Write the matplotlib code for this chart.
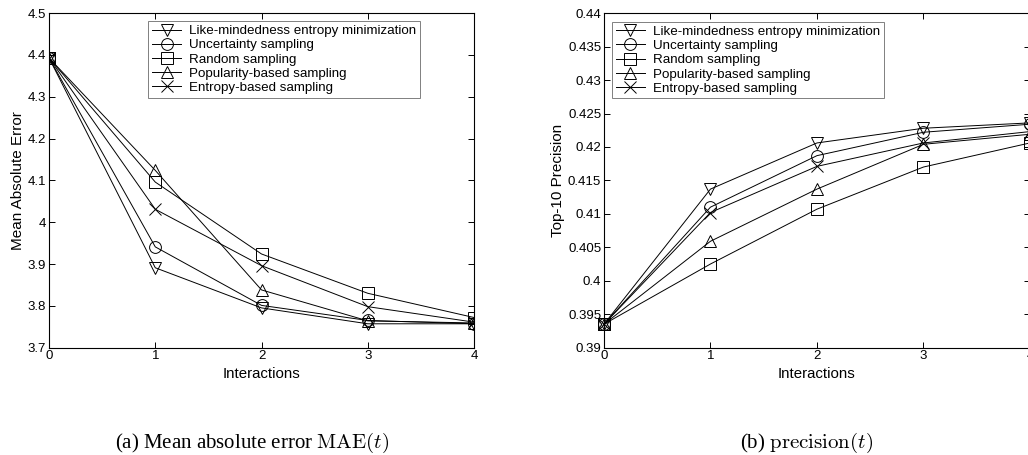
import numpy as np
import matplotlib
matplotlib.use("Agg")
from matplotlib import pyplot as plt

plt.rcParams['font.family'] = ['Liberation Sans', 'DejaVu Sans']
plt.rcParams['mathtext.fontset'] = 'cm'

# data
t = [0, 1, 2, 3, 4]
labels = ["Like-mindedness entropy minimization", "Uncertainty sampling",
          "Random sampling", "Popularity-based sampling", "Entropy-based sampling"]
markers = ["v", "o", "s", "^", "x"]

mae_like = [4.393, 3.891, 3.795, 3.757, 3.757]
mae_unc = [4.393, 3.941, 3.801, 3.765, 3.757]
mae_rand = [4.393, 4.096, 3.924, 3.830, 3.772]
mae_pop = [4.393, 4.124, 3.838, 3.764, 3.759]
mae_ent = [4.393, 4.031, 3.896, 3.798, 3.761]

prec_like = [0.3935, 0.4137, 0.4206, 0.4228, 0.4236]
prec_unc = [0.3935, 0.4110, 0.4187, 0.4222, 0.4234]
prec_rand = [0.3935, 0.4025, 0.4107, 0.4170, 0.4206]
prec_pop = [0.3935, 0.4059, 0.4137, 0.4204, 0.4219]
prec_ent = [0.3935, 0.4102, 0.4171, 0.4206, 0.4223]

mae = [mae_like, mae_unc, mae_rand, mae_pop, mae_ent]
prec = [prec_like, prec_unc, prec_rand, prec_pop, prec_ent]

fig = plt.figure(figsize=(10.28, 4.55), dpi=100)
ax1 = fig.add_axes([0.0477, 0.236, 0.4134, 0.735])
ax2 = fig.add_axes([0.5875, 0.236, 0.4144, 0.735])


def style(ax):
    ax.set_xlim(0, 4)
    ax.set_xticks(t)
    ax.tick_params(direction='in', top=True, right=True, labelsize=9.5, length=4, width=0.7, pad=2)
    for s in ax.spines.values():
        s.set_linewidth(0.8)
    ax.set_xlabel("Interactions", fontsize=10.8, labelpad=3)


def legend(ax, loc, anchor):
    leg = ax.legend(loc=loc, bbox_to_anchor=anchor, fontsize=9.6, fancybox=False,
                    framealpha=1, edgecolor='gray', borderpad=0.28, labelspacing=0.14,
                    handlelength=2.2, handletextpad=0.6, borderaxespad=0)
    leg.get_frame().set_linewidth(0.7)


for ys, m, lab in zip(mae, markers, labels):
    ax1.plot(t, ys, color='black', lw=0.7, marker=m, markersize=8.5,
             markerfacecolor='none', markeredgewidth=0.7, label=lab)
style(ax1)
ax1.set_ylim(3.7, 4.5)
ax1.set_yticks([3.7, 3.8, 3.9, 4.0, 4.1, 4.2, 4.3, 4.4, 4.5])
ax1.set_yticklabels(["3.7", "3.8", "3.9", "4", "4.1", "4.2", "4.3", "4.4", "4.5"])
ax1.set_ylabel("Mean Absolute Error", fontsize=11, labelpad=2)
legend(ax1, 'upper right', (0.873, 0.976))

for ys, m, lab in zip(prec, markers, labels):
    ax2.plot(t, ys, color='black', lw=0.7, marker=m, markersize=8.5,
             markerfacecolor='none', markeredgewidth=0.7, label=lab, clip_on=False)
style(ax2)
ax2.set_ylim(0.39, 0.44)
yt = [0.39, 0.395, 0.4, 0.405, 0.41, 0.415, 0.42, 0.425, 0.43, 0.435, 0.44]
ax2.set_yticks(yt)
ax2.set_yticklabels(["0.39", "0.395", "0.4", "0.405", "0.41", "0.415", "0.42",
                     "0.425", "0.43", "0.435", "0.44"])
ax2.set_ylabel("Top-10 Precision", fontsize=11, labelpad=2)
legend(ax2, 'upper left', (0.019, 0.974))

fig.text(0.245, 0.026, r"(a) Mean absolute error $\mathrm{MAE}(t)$", ha='center', va='center',
         fontsize=15, family='Liberation Serif')
fig.text(0.785, 0.026, r"(b) $\mathrm{precision}(t)$", ha='center', va='center',
         fontsize=15, family='Liberation Serif')

fig.savefig("out.png", dpi=100)
